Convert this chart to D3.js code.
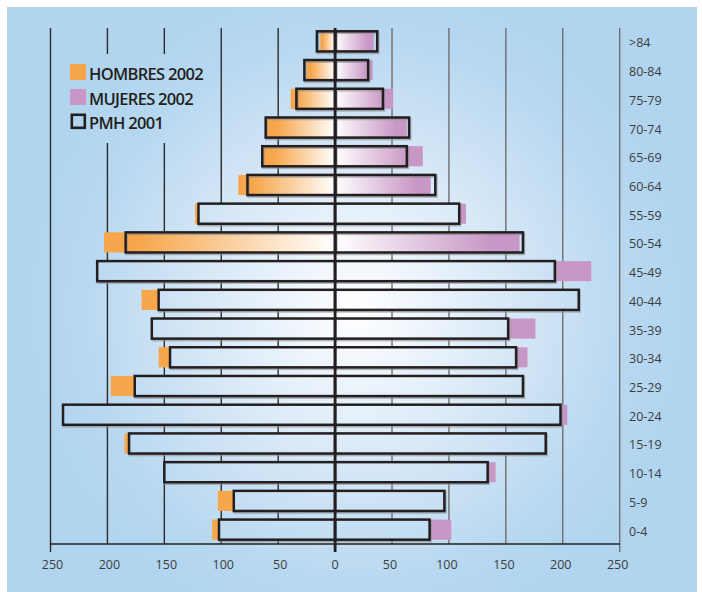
<!DOCTYPE html>
<html><head><meta charset="utf-8">
<script src="https://cdn.jsdelivr.net/npm/d3@7"></script>
<style>html,body{margin:0;padding:0;background:#fff;}svg{display:block;}</style>
</head><body>
<script>
const categories = [">84","80-84","75-79","70-74","65-69","60-64","55-59","50-54","45-49","40-44","35-39","30-34","25-29","20-24","15-19","10-14","5-9","0-4"];
const hombres2002 = [13,25,39,60,63,85,123,203,205,170,158,155,197,234,185,146,103,108];
const mujeres2002 = [34,33,51,63,77,84,115,162,225,210,176,169,160,204,181,141,92,102];
const pmhHombres2001 = [16,27,34,61,64,77,120,184,209,155,161,145,176,239,181,150,89,102];
const pmhMujeres2001 = [37,29,42,65,63,88,109,165,193,214,152,159,165,198,185,134,96,83];
const xTicks = [-250,-200,-150,-100,-50,0,50,100,150,200,250];
const legendLabels = ["HOMBRES 2002","MUJERES 2002","PMH 2001"];
const gradientRows = new Set([">84","80-84","75-79","70-74","65-69","60-64","50-54"]);

const W = 702, H = 592;
const ORANGE = "#f7a64b", PURPLE = "#c897c5", INK = "#231f20";
const svg = d3.select("body").append("svg").attr("width", W).attr("height", H);
const defs = svg.append("defs");

const bg = defs.append("radialGradient").attr("id","bg").attr("gradientUnits","userSpaceOnUse")
  .attr("cx",356).attr("cy",310).attr("r",330);
[[0,"#ffffff"],[0.2,"#eef5fc"],[0.55,"#d0e4f5"],[0.85,"#b6d7f0"],[1,"#b2d5ef"]].forEach(([o,c]) =>
  bg.append("stop").attr("offset",o).attr("stop-color",c));

const gM = defs.append("linearGradient").attr("id","gM").attr("x1",0).attr("x2",1).attr("y1",0).attr("y2",0);
gM.append("stop").attr("offset",0).attr("stop-color",ORANGE);
gM.append("stop").attr("offset",0.15).attr("stop-color",ORANGE);
gM.append("stop").attr("offset",1).attr("stop-color","#ffffff");
const gF = defs.append("linearGradient").attr("id","gF").attr("x1",0).attr("x2",1).attr("y1",0).attr("y2",0);
gF.append("stop").attr("offset",0).attr("stop-color","#ffffff");
gF.append("stop").attr("offset",0.85).attr("stop-color",PURPLE);
gF.append("stop").attr("offset",1).attr("stop-color",PURPLE);

svg.append("rect").attr("x",7).attr("y",7).attr("width",690).attr("height",585).attr("fill","url(#bg)");

const x = d3.scaleLinear().domain([-250,250]).range([50.5,619.7]);
const y = d3.scaleBand().domain(categories).range([27,544]).paddingInner(0.3).paddingOuter(0.15);

const legTop = 54, legBot = 143, legLeft = 60, legRight = 210;

const grid = svg.append("g");
xTicks.forEach(t => {
  const px = x(t);
  if (t === 0) return;
  const col = t < 0 ? "#2b2b2b" : "#6e6e70";
  const segs = (px > legLeft && px < legRight) ? [[28,legTop],[legBot,544]] : [[28,544]];
  const bottom = Math.abs(t) === 250 ? 552 : 544;
  segs.forEach(([a,b]) => grid.append("line").attr("x1",px).attr("x2",px)
    .attr("y1",a).attr("y2", b === 544 ? bottom : b).attr("stroke",col).attr("stroke-width",1.4));
});
svg.append("line").attr("x1",x(-250)).attr("x2",x(250)).attr("y1",544).attr("y2",544)
  .attr("stroke",INK).attr("stroke-width",1.4);

const rows = categories.map((c,i) => ({c, m:hombres2002[i], f:mujeres2002[i], pm:pmhHombres2001[i], pf:pmhMujeres2001[i], grad:gradientRows.has(c)}));

const bars = svg.append("g");
bars.selectAll(".m").data(rows).join("rect")
  .attr("x", d => x(-d.m)).attr("width", d => x(0)-x(-d.m))
  .attr("y", d => y(d.c)).attr("height", y.bandwidth())
  .attr("fill", d => d.grad ? "url(#gM)" : ORANGE);
bars.selectAll(".f").data(rows).join("rect")
  .attr("x", x(0)).attr("width", d => x(d.f)-x(0))
  .attr("y", d => y(d.c)).attr("height", y.bandwidth())
  .attr("fill", d => d.grad ? "url(#gF)" : PURPLE);

const pmh = [];
rows.forEach(d => { pmh.push({c:d.c, x0:x(-d.pm), x1:x(0), grad:d.grad}); pmh.push({c:d.c, x0:x(0), x1:x(d.pf), grad:d.grad}); });
bars.selectAll(".ps").data(pmh).join("rect")
  .attr("x", d => d.x0+1).attr("y", d => y(d.c)+1.5)
  .attr("width", d => d.x1-d.x0).attr("height", y.bandwidth())
  .attr("fill","none").attr("stroke","#8a8c90").attr("stroke-opacity",0.6).attr("stroke-width",2.6);
bars.selectAll(".p").data(pmh).join("rect")
  .attr("x", d => d.x0).attr("y", d => y(d.c))
  .attr("width", d => d.x1-d.x0).attr("height", y.bandwidth())
  .attr("fill", d => d.grad ? "none" : "url(#bg)").attr("stroke",INK).attr("stroke-width",2.5);

svg.append("line").attr("x1",x(0)).attr("x2",x(0)).attr("y1",28).attr("y2",552)
  .attr("stroke",INK).attr("stroke-width",2.8);

svg.append("g").selectAll("text").data(categories).join("text")
  .attr("x",629).attr("y", d => y(d)+y.bandwidth()/2+6)
  .attr("font-family","'Open Sans', sans-serif").attr("font-size",12.5).attr("fill","#3d3d3f")
  .text(d => d);

svg.append("g").selectAll("text").data(xTicks).join("text")
  .attr("x", d => x(d)+ (d<0?2:(d>0?-2:0))).attr("y",569)
  .attr("text-anchor","middle")
  .attr("font-family","'Open Sans', sans-serif").attr("font-size",12.5).attr("fill","#3d3d3f")
  .text(d => Math.abs(d));

const leg = svg.append("g");
const legY = [64, 89, 113];
leg.append("rect").attr("x",70).attr("y",legY[0]).attr("width",16).attr("height",16).attr("fill",ORANGE);
leg.append("rect").attr("x",70).attr("y",legY[1]).attr("width",16).attr("height",16).attr("fill",PURPLE);
leg.append("rect").attr("x",71.8).attr("y",legY[2]+1.8).attr("width",13).attr("height",13)
  .attr("fill","none").attr("stroke",INK).attr("stroke-width",2.6);
leg.selectAll("text").data(legendLabels).join("text")
  .attr("x",89).attr("y",(d,i) => legY[i]+15.5)
  .attr("font-family","'Open Sans', sans-serif").attr("font-size",16.5).attr("font-weight",600)
  .attr("letter-spacing",-0.7).attr("fill",INK)
  .text(d => d);
</script>
</body></html>
